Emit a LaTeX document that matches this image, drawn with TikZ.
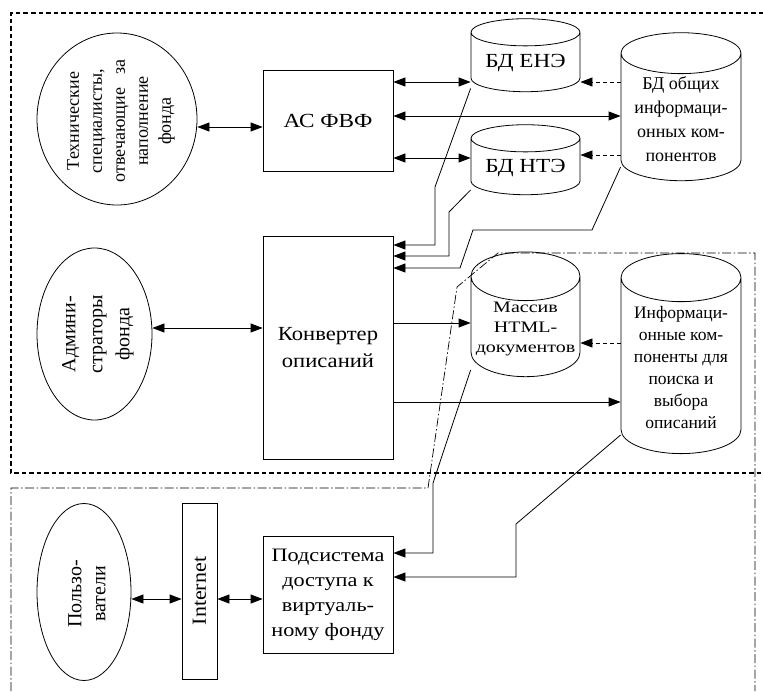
\documentclass[tikz,border=0pt]{standalone}
\usepackage{fontspec}
\setmainfont{Liberation Serif}
\usetikzlibrary{shapes.geometric,arrows.meta}

\tikzset{
  unit/.style={draw, rectangle, inner sep=2pt, align=center,
    font=\fontsize{20}{27}\selectfont\addfontfeatures{FakeStretch=1.13}},
  actor/.style={draw, ellipse, inner sep=0pt},
  actortext/.style={rotate=90, align=center, inner sep=0pt},
  store/.style={draw, cylinder, shape border rotate=90, inner sep=1pt, align=center},
  both/.style={{Triangle[length=12pt,width=9pt]}-{Triangle[length=12pt,width=9pt]}},
  feed/.style={-{Triangle[length=12pt,width=9pt]}},
  refill/.style={feed, dash pattern=on 4pt off 3pt},
  zone/.style={line width=1.1pt, dash pattern=on 4.5pt off 3pt},
  webzone/.style={line width=0.7pt, dash pattern=on 9pt off 2.5pt on 1.5pt off 2.5pt}
}

\begin{document}
\begin{tikzpicture}[x=1pt, y=-1pt, line width=0.8pt]
  \useasboundingbox (0,0) rectangle (763,691);

  % zones
  \draw[zone] (763,13) -- (11,13) -- (11,473) -- (763,473);
  \draw[webzone] (11,691) -- (11,488) -- (428,488) -- (457,287) -- (498,253)
    -- (755,253) -- (755,691);

  % actors
  \node[actor, minimum width=160, minimum height=172] (tech) at (117,119) {};
  \node[actortext, font=\fontsize{18}{23}\selectfont] (techtext) at (121,121)
    {Технические\\специалисты,\\отвечающие\hspace{0.7em}за\\наполнение\\фонда};
  \node[actor, minimum width=115, minimum height=172] (admins) at (94.5,334) {};
  \node[actortext, font=\fontsize{20}{27}\selectfont] (adminstext) at (98,334)
    {Админи-\\страторы\\фонда};
  \node[actor, minimum width=94, minimum height=177] (users) at (84,592) {};
  \node[actortext, font=\fontsize{20}{24}\selectfont] (userstext) at (87,594)
    {Пользо-\\ватели};

  % processing units
  \node[unit, minimum width=130, minimum height=101,
    font=\fontsize{20}{27}\selectfont\addfontfeatures{FakeStretch=1.16}]
    (asfvf) at (328,120.5) {АС ФВФ};
  \node[unit, minimum width=130, minimum height=223] (conv) at (328,347.5)
    {Конвертер\\описаний};
  \node[unit, minimum width=130, minimum height=117,
    font=\fontsize{19}{25}\selectfont\addfontfeatures{FakeStretch=1.17}]
    (access) at (328,594.5) {Подсистема\\доступа к\\виртуаль-\\ному фонду};
  \node[unit, rotate=90, minimum width=176, minimum height=35,
    font=\fontsize{20}{24}\selectfont\addfontfeatures{FakeStretch=1.1}]
    (inet) at (199.5,591) {Internet};

  % data stores
  \node[store, minimum width=109, minimum height=73, aspect=0.33,
    font=\fontsize{20}{24}\selectfont\addfontfeatures{FakeStretch=1.16}]
    (dbene) at (525.5,63.5) {БД ЕНЭ};
  \node[store, minimum width=109, minimum height=70, aspect=0.33,
    font=\fontsize{20}{24}\selectfont\addfontfeatures{FakeStretch=1.16}]
    (dbnte) at (525.5,168) {БД НТЭ};
  \node[store, minimum width=120, minimum height=148, aspect=0.43,
    font=\fontsize{18}{24}\selectfont] (dbcommon) at (681,119)
    {БД общих\\информаци-\\онных ком-\\понентов};
  \node[store, minimum width=109, minimum height=108, aspect=0.48,
    font=\fontsize{16}{20}\selectfont\addfontfeatures{FakeStretch=1.25}]
    (html) at (525.5,329) {Массив\\HTML-\\документов};
  \node[store, minimum width=120, minimum height=200, aspect=0.5,
    font=\fontsize{17.5}{22}\selectfont] (search) at (681,368)
    {Информаци-\\онные ком-\\поненты для\\поиска и\\выбора\\описаний};

  % arrow levels
  \coordinate (techrow) at (0,127);
  \coordinate (enerow) at (0,82);
  \coordinate (commonrow) at (0,116);
  \coordinate (nterow) at (0,158);
  \coordinate (ntecopy) at (0,155);
  \coordinate (adminrow) at (0,328);
  \coordinate (htmlrow) at (0,323);
  \coordinate (htmlcopy) at (0,343);
  \coordinate (searchrow) at (0,402);
  \coordinate (inA) at (0,245);
  \coordinate (inB) at (0,256);
  \coordinate (inC) at (0,268);
  \coordinate (accA) at (0,553);
  \coordinate (accB) at (0,577);
  \coordinate (netrow) at (0,599);

  % bends
  \coordinate (k1) at (435,187);
  \coordinate (k2) at (449,212);
  \coordinate (k3) at (592,230);
  \coordinate (k4) at (473,230);
  \coordinate (k5) at (460,268);
  \coordinate (k6) at (433,483);
  \coordinate (k7) at (516,524);

  % connectors
  \draw[both] (tech.east |- techrow) -- (asfvf.west |- techrow);
  \draw[both] (asfvf.east |- enerow) -- (dbene.west |- enerow);
  \draw[both] (asfvf.east |- commonrow) -- (dbcommon.west |- commonrow);
  \draw[both] (asfvf.east |- nterow) -- (dbnte.west |- nterow);
  \draw[refill] (dbcommon.west |- enerow) -- (dbene.east |- enerow);
  \draw[refill] (dbcommon.west |- ntecopy) -- (dbnte.east |- ntecopy);

  \draw[feed] ([yshift=-25pt]dbene.west) -- (k1) |- (conv.east |- inA);
  \draw[feed] ([yshift=-22pt]dbnte.west) -- (k2) |- (conv.east |- inB);
  \draw[feed] ([yshift=-48pt]dbcommon.west) -- (k3) -- (k4) -- (k5) -- (conv.east |- inC);

  \draw[both] (admins.east |- adminrow) -- (conv.west |- adminrow);
  \draw[feed] (conv.east |- htmlrow) -- (html.west |- htmlrow);
  \draw[feed] (conv.east |- searchrow) -- (search.west |- searchrow);
  \draw[refill] (search.west |- htmlcopy) -- (html.east |- htmlcopy);

  \draw[feed] ([yshift=-41pt]html.west) -- (k6) |- (access.east |- accA);
  \draw[feed] ([yshift=-67pt]search.west) -- (k7) |- (access.east |- accB);

  \draw[both] (users.east |- netrow) -- (inet.north |- netrow);
  \draw[both] (inet.south |- netrow) -- (access.west |- netrow);
\end{tikzpicture}
\end{document}
